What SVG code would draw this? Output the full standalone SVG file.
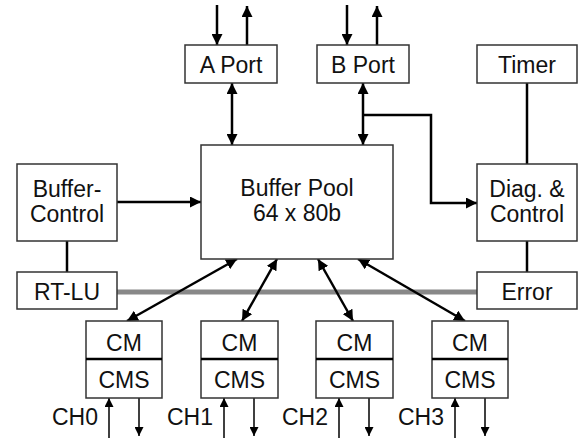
<svg xmlns="http://www.w3.org/2000/svg" width="580" height="438" viewBox="0 0 580 438">
<style>
.box{fill:#fff;stroke:#333;stroke-width:1.5}
.t{font-family:"Liberation Sans",Arial,sans-serif;font-size:23px;fill:#111;text-anchor:middle}
.te{font-family:"Liberation Sans",Arial,sans-serif;font-size:23px;fill:#111;text-anchor:end}
.c{stroke:#000;stroke-width:2.5;fill:none}
.a{stroke:#000;stroke-width:2.5;fill:none;marker-end:url(#ah)}
.d{stroke:#000;stroke-width:2.5;fill:none;marker-start:url(#ah);marker-end:url(#ah)}
.s{stroke:#000;stroke-width:1.5;fill:none;marker-end:url(#sh)}
</style>
<defs>
<marker id="ah" markerUnits="userSpaceOnUse" markerWidth="11" markerHeight="11" refX="11" refY="5.5" orient="auto-start-reverse"><path d="M0,0 L11,5.5 L0,11 z" fill="#000"/></marker>
<marker id="sh" markerUnits="userSpaceOnUse" markerWidth="9" markerHeight="9" refX="9" refY="4.5" orient="auto-start-reverse"><path d="M0,0 L9,4.5 L0,9 z" fill="#000"/></marker>
</defs>
<g id="connectors">
<line class="a" x1="217" y1="5" x2="217" y2="45"/>
<line class="a" x1="247" y1="45" x2="247" y2="6"/>
<line class="a" x1="347" y1="5" x2="347" y2="45"/>
<line class="a" x1="377" y1="45" x2="377" y2="6"/>
<line class="d" x1="232" y1="83" x2="232" y2="145"/>
<line class="d" x1="363" y1="83" x2="363" y2="145"/>
<polyline class="a" points="363,115 431,115 431,203 477,203"/>
<line class="a" x1="117" y1="202" x2="201" y2="202"/>
<line class="c" x1="67" y1="241" x2="67" y2="272"/>
<line class="c" x1="527" y1="83" x2="527" y2="164"/>
<line class="c" x1="527" y1="241" x2="527" y2="272"/>
<line x1="117" y1="292" x2="477" y2="292" stroke="#888" stroke-width="5"/>
<line class="d" x1="237" y1="259" x2="127" y2="321"/>
<line class="d" x1="277" y1="259" x2="242" y2="321"/>
<line class="d" x1="318" y1="259" x2="353" y2="321"/>
<line class="d" x1="358" y1="259" x2="465" y2="321"/>
<line class="s" x1="109" y1="438" x2="109" y2="398"/>
<line class="s" x1="139" y1="398" x2="139" y2="436"/>
<line class="s" x1="224" y1="438" x2="224" y2="398"/>
<line class="s" x1="254" y1="398" x2="254" y2="436"/>
<line class="s" x1="339" y1="438" x2="339" y2="398"/>
<line class="s" x1="369" y1="398" x2="369" y2="436"/>
<line class="s" x1="455" y1="438" x2="455" y2="398"/>
<line class="s" x1="485" y1="398" x2="485" y2="436"/>
</g>
<g id="aport"><rect class="box" x="185" y="45" width="92" height="38"/><text class="t" x="231" y="73">A Port</text></g>
<g id="bport"><rect class="box" x="317" y="45" width="92" height="38"/><text class="t" x="363" y="73">B Port</text></g>
<g id="timer"><rect class="box" x="477" y="45" width="100" height="38"/><text class="t" x="527" y="73">Timer</text></g>
<g id="bufferpool"><rect class="box" x="201" y="145" width="192" height="114"/><text class="t" x="297" y="196">Buffer Pool</text><text class="t" x="297" y="221">64 x 80b</text></g>
<g id="buffercontrol"><rect class="box" x="17" y="164" width="100" height="77"/><text class="t" x="67" y="197">Buffer-</text><text class="t" x="67" y="222">Control</text></g>
<g id="diag"><rect class="box" x="477" y="164" width="100" height="77"/><text class="t" x="527" y="197">Diag. &amp;</text><text class="t" x="527" y="222">Control</text></g>
<g id="rtlu"><rect class="box" x="17" y="272" width="100" height="37"/><text class="t" x="67" y="300">RT-LU</text></g>
<g id="error"><rect class="box" x="477" y="272" width="100" height="37"/><text class="t" x="527" y="300">Error</text></g>
<g id="cm0"><rect class="box" x="86" y="321" width="76" height="77"/><line class="c" x1="86" y1="359" x2="162" y2="359"/><text class="t" x="124" y="351">CM</text><text class="t" x="124" y="388">CMS</text><text class="te" x="98" y="425">CH0</text></g>
<g id="cm1"><rect class="box" x="201" y="321" width="77" height="77"/><line class="c" x1="201" y1="359" x2="278" y2="359"/><text class="t" x="239.5" y="351">CM</text><text class="t" x="239.5" y="388">CMS</text><text class="te" x="213" y="425">CH1</text></g>
<g id="cm2"><rect class="box" x="316" y="321" width="77" height="77"/><line class="c" x1="316" y1="359" x2="393" y2="359"/><text class="t" x="354.5" y="351">CM</text><text class="t" x="354.5" y="388">CMS</text><text class="te" x="328" y="425">CH2</text></g>
<g id="cm3"><rect class="box" x="432" y="321" width="76" height="77"/><line class="c" x1="432" y1="359" x2="508" y2="359"/><text class="t" x="470" y="351">CM</text><text class="t" x="470" y="388">CMS</text><text class="te" x="444" y="425">CH3</text></g>
</svg>
